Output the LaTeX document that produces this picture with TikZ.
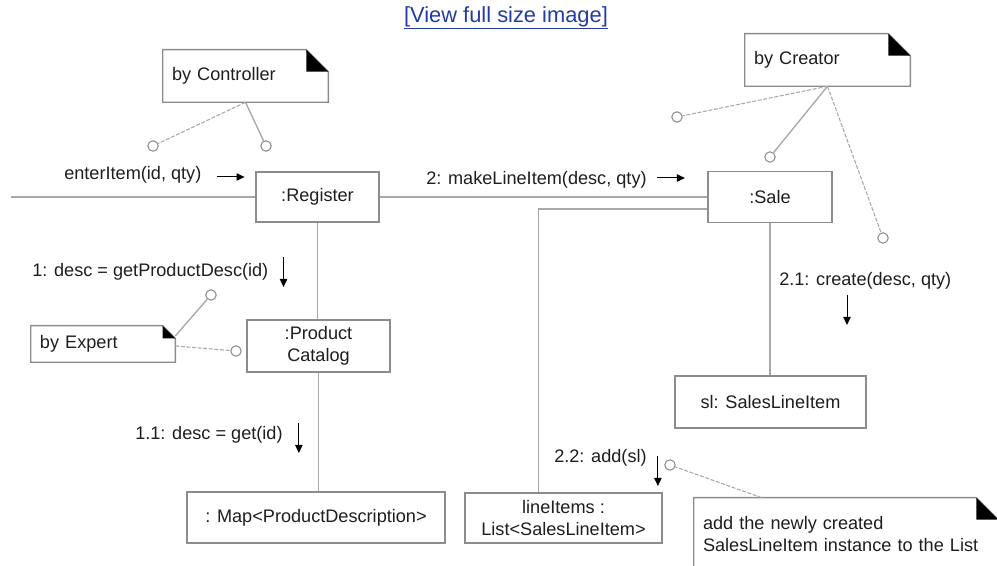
\documentclass[tikz,border=0pt]{standalone}
\usepackage{fontspec}
\setmainfont{Liberation Sans}
\usetikzlibrary{positioning,calc,arrows.meta}
\definecolor{boxgray}{RGB}{140,140,140}
\definecolor{linegray}{RGB}{168,168,168}
\definecolor{inkgray}{RGB}{30,30,30}
\definecolor{linkblue}{RGB}{35,60,165}
\newcommand\umlfont{\fontsize{13.6pt}{16.5pt}\selectfont}
\tikzset{
  objbox/.style   = {draw=boxgray, line width=1.1pt, fill=white, inner sep=2pt,
                     align=center, font=\umlfont, text=inkgray},
  notebox/.style  = {inner xsep=6.75pt, inner ysep=2pt, align=left,
                     font=\umlfont, text=inkgray},
  notefold/.style = {fill=black},
  link/.style     = {draw=linegray, line width=1pt},
  nlink/.style    = {draw=linegray, line width=0.8pt, dash pattern=on 3pt off 1.2pt},
  lolly/.style    = {circle, draw=boxgray, fill=white, line width=0.8pt,
                     inner sep=0pt, minimum size=7.8pt},
  msg/.style      = {font=\umlfont, text=inkgray, inner sep=0pt, anchor=west},
  msgarrow/.style = {line width=0.75pt, -{Triangle[length=6pt,width=5.5pt]}},
  hdrlink/.style  = {font=\fontsize{16.4pt}{18pt}\selectfont, text=linkblue, inner sep=0pt},
}
% note outline with a folded corner
\newcommand\dognote[2]{%
  \draw[draw=boxgray, line width=1.1pt] (#1.north west) -- ([xshift=-#2]#1.north east)
    -- ([yshift=-#2]#1.north east) -- (#1.south east) -- (#1.south west) -- cycle;
  \fill[notefold] ([xshift=-#2]#1.north east) -- ([xshift=-#2,yshift=-#2]#1.north east)
    -- ([yshift=-#2]#1.north east) -- cycle;
}

\begin{document}
\begin{tikzpicture}[x=0.75pt,y=-0.75pt]
  \useasboundingbox (0,0) rectangle (997,566);
  \clip (0,0) rectangle (997,566);
  \node[hdrlink] (hdr) at (506,18) {\underline{[View full size image]}};

  % objects
  \node[objbox, minimum width=92.25pt, minimum height=37.5pt] (reg) at (317.5,197) {:Register};
  \node[objbox, minimum width=93pt, minimum height=38.25pt] (sale) at (770,197) {:Sale};
  \node[objbox, minimum width=107.25pt, minimum height=39pt] (cat) at (318.5,346) {:Product\\Catalog};
  \node[objbox, minimum width=193.5pt, minimum height=38.25pt] (map) at (316,517.5) {: Map<ProductDescription>};
  \node[objbox, minimum width=143.25pt, minimum height=39pt] (sli) at (770.5,402) {sl: SalesLineItem};
  \node[objbox, minimum width=147.75pt, minimum height=37.5pt] (items) at (563.5,518) {lineItems :\\List<SalesLineItem>};

  % links
  \coordinate (actor) at (11,197);
  \draw[link] (actor) -- (reg);
  \draw[link] (reg) -- (sale);
  \draw[link] ([yshift=-9pt]sale.west) -| ([xshift=-19pt]items.north);
  \draw[link] (reg.south) -- (reg.south |- cat.north);
  \draw[link] (cat.south) -- (cat.south |- map.north);
  \draw[link] (sale.south) -- (sale.south |- sli.north);

  % notes
  \node[notebox, text width=110.25pt, minimum height=39pt] (ctrl) at (245.5,76) {by Controller};
  \node[notebox, text width=110.25pt, minimum height=39pt] (creator) at (827.5,60) {by Creator};
  \node[notebox, text width=94.5pt, minimum height=27pt] (expert) at (103,344) {by Expert};
  \node[notebox, text width=214.5pt, minimum height=54pt] (addnote) at (846,534)
    {add the newly created\\SalesLineItem instance to the List};
  \dognote{ctrl}{16.5pt}
  \dognote{creator}{16.5pt}
  \dognote{expert}{9.5pt}
  \dognote{addnote}{16.5pt}

  \node[lolly] (c1) at (153,146) {};
  \node[lolly] (c2) at (266,146) {};
  \node[lolly] (c3) at (677,117) {};
  \node[lolly] (c4) at (770,157) {};
  \node[lolly] (c5) at (883,238) {};
  \node[lolly] (c6) at (211,295) {};
  \node[lolly] (c7) at (236,351) {};
  \node[lolly] (c8) at (670,465) {};
  \draw[nlink] (ctrl.south) -- (c1);
  \draw[link] (ctrl.south) -- (c2);
  \draw[nlink] (creator.south) -- (c3);
  \draw[link] (creator.south) -- (c4);
  \draw[nlink] (creator.south) -- (c5);
  \draw[link] ([yshift=6pt]expert.east) -- (c6);
  \draw[nlink] ([yshift=-1.5pt]expert.east) -- (c7);
  \draw[nlink] ([xshift=51pt]addnote.north west) -- (c8);

  % messages
  \node[msg] (m0) at (64,175) {enterItem(id, qty)};
  \node[msg] (m2) at (426,180) {2: makeLineItem(desc, qty)};
  \node[msg] (m1) at (32,272) {1: desc = getProductDesc(id)};
  \node[msg] (m11) at (135,435) {1.1: desc = get(id)};
  \node[msg] (m21) at (779,281) {2.1: create(desc, qty)};
  \node[msg] (m22) at (554,458) {2.2: add(sl)};
  \draw[msgarrow] ([xshift=11.25pt,yshift=-1.5pt]m0.east) -- ++(21pt,0);
  \draw[msgarrow] ([xshift=7.5pt,yshift=1.5pt]m2.east) -- ++(21pt,0);
  \draw[msgarrow] ([xshift=11.25pt,yshift=11.25pt]m1.east) -- ++(0,-22.5pt);
  \draw[msgarrow] ([xshift=12pt,yshift=9pt]m11.east) -- ++(0,-22.5pt);
  \draw[msgarrow] ([xshift=51pt,yshift=-10.5pt]m21.west) -- ++(0,-22.5pt);
  \draw[msgarrow] ([xshift=8.25pt,yshift=1.5pt]m22.east) -- ++(0,-22.5pt);
\end{tikzpicture}
\end{document}
